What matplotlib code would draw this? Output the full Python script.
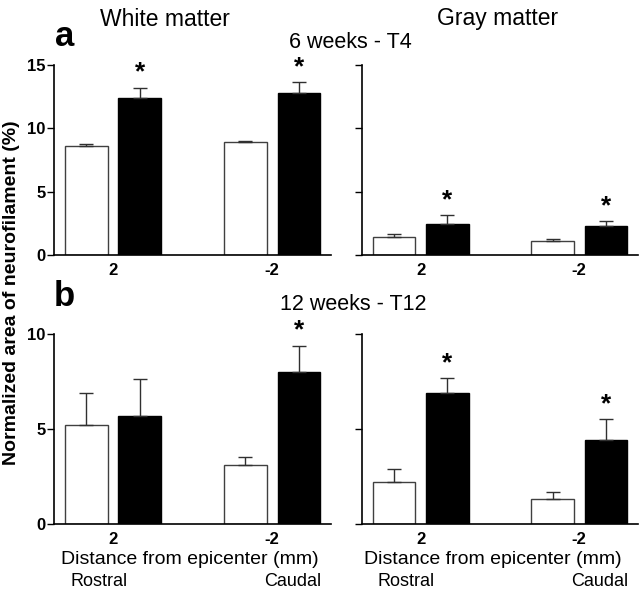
import matplotlib
matplotlib.use("agg")
import matplotlib.pyplot as plt
import numpy as np

plt.rcParams['font.family'] = ['Liberation Sans', 'DejaVu Sans']

groups = ['2', '-2']

# top row: 6 weeks - T4
wm6_ctrl = [8.63, 8.92]
wm6_ctrl_err = [0.16, 0.10]
wm6_trt = [12.42, 12.81]
wm6_trt_err = [0.81, 0.84]
gm6_ctrl = [1.40, 1.10]
gm6_ctrl_err = [0.23, 0.14]
gm6_trt = [2.42, 2.31]
gm6_trt_err = [0.71, 0.35]

# bottom row: 12 weeks - T12
wm12_ctrl = [5.19, 3.10]
wm12_ctrl_err = [1.70, 0.41]
wm12_trt = [5.70, 8.02]
wm12_trt_err = [1.93, 1.38]
gm12_ctrl = [2.21, 1.30]
gm12_ctrl_err = [0.68, 0.40]
gm12_trt = [6.92, 4.40]
gm12_trt_err = [0.78, 1.11]

# which treated bars carry a star
stars_wm6 = [True, True]
stars_gm6 = [True, True]
stars_wm12 = [False, True]
stars_gm12 = [True, True]

fig = plt.figure(figsize=(6.4, 5.93), dpi=100)

w = 0.268
off = 0.168
x = np.arange(len(groups))


def panel(rect, ctrl, ctrl_err, trt, trt_err, stars, ymax, yticks, showlabels):
    ax = fig.add_axes(rect)
    ax.bar(x - off, ctrl, w, color='white', edgecolor='#404040', linewidth=1.0,
           yerr=[np.zeros(len(ctrl)), ctrl_err], ecolor='#303030',
           error_kw=dict(capsize=5, elinewidth=1.0, capthick=1.0), zorder=2)
    ax.bar(x + off, trt, w, color='black', edgecolor='black', linewidth=1.0,
           yerr=[np.zeros(len(trt)), trt_err], ecolor='#303030',
           error_kw=dict(capsize=5, elinewidth=1.0, capthick=1.0), zorder=2)
    for i in range(len(groups)):
        if stars[i]:
            ax.text(x[i] + off, trt[i] + trt_err[i] + ymax * 0.015, '*',
                    ha='center', va='bottom', fontsize=19, fontweight='bold')
    ax.set_xlim(-0.37, 1.37)
    ax.set_ylim(0, ymax)
    ax.set_yticks(yticks)
    ax.set_xticks(x)
    ax.set_xticklabels(groups, fontsize=12, fontweight='bold')
    ax.tick_params(axis='x', length=0, pad=6)
    ax.tick_params(axis='y', length=5, width=1.0, direction='out', pad=1)
    if showlabels:
        ax.set_yticklabels([str(t) for t in yticks], fontsize=12, fontweight='bold')
    else:
        ax.set_yticklabels([])
    for s in ['top', 'right']:
        ax.spines[s].set_visible(False)
    for s in ['left', 'bottom']:
        ax.spines[s].set_linewidth(1.2)
    return ax


panel([0.0844, 0.570, 0.433, 0.320], wm6_ctrl, wm6_ctrl_err, wm6_trt, wm6_trt_err,
      stars_wm6, 15, [0, 5, 10, 15], True)
panel([0.5656, 0.570, 0.431, 0.320], gm6_ctrl, gm6_ctrl_err, gm6_trt, gm6_trt_err,
      stars_gm6, 15, [0, 5, 10, 15], False)
panel([0.0844, 0.1164, 0.433, 0.320], wm12_ctrl, wm12_ctrl_err, wm12_trt, wm12_trt_err,
      stars_wm12, 10, [0, 5, 10], True)
panel([0.5656, 0.1164, 0.431, 0.320], gm12_ctrl, gm12_ctrl_err, gm12_trt, gm12_trt_err,
      stars_gm12, 10, [0, 5, 10], False)

# headers
fig.text(165 / 640, 1 - 19 / 593, 'White matter', ha='center', va='center', fontsize=16.5)
fig.text(498 / 640, 1 - 19 / 593, 'Gray matter', ha='center', va='center', fontsize=16.5)
fig.text(65 / 640, 1 - 36 / 593, 'a', ha='center', va='center', fontsize=25, fontweight='bold')
fig.text(64 / 640, 1 - 296 / 593, 'b', ha='center', va='center', fontsize=25, fontweight='bold')
fig.text(350 / 640, 1 - 43 / 593, '6 weeks - T4', ha='center', va='center', fontsize=15.5)
fig.text(353 / 640, 1 - 305 / 593, '12 weeks - T12', ha='center', va='center', fontsize=15.5)

fig.text(12 / 640, 1 - 293 / 593, 'Normalized area of neurofilament (%)', rotation=90,
         ha='center', va='center', fontsize=14, fontweight='bold')

for cx, rx, cdx in [(190, 99, 293), (493, 406, 600)]:
    fig.text(cx / 640, 1 - 560 / 593, 'Distance from epicenter (mm)', ha='center',
             va='center', fontsize=14)
    fig.text(rx / 640, 1 - 582 / 593, 'Rostral', ha='center', va='center', fontsize=13)
    fig.text(cdx / 640, 1 - 582 / 593, 'Caudal', ha='center', va='center', fontsize=13)

fig.savefig('out.png', dpi=100)
